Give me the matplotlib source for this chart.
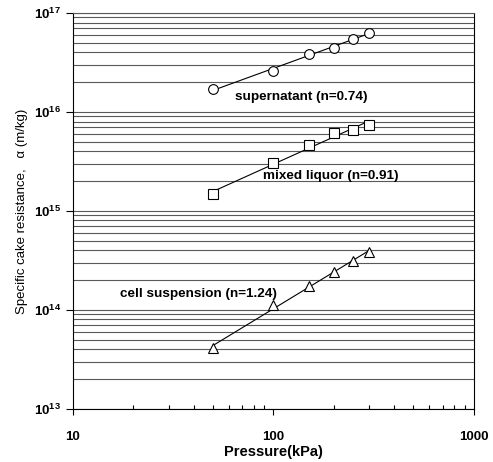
import numpy as np
import matplotlib
matplotlib.use("Agg")
import matplotlib.pyplot as plt
from matplotlib.ticker import LogLocator, FixedLocator, FixedFormatter, NullFormatter

# pressure (kPa) and specific cake resistance (m/kg)
pressure = [50, 100, 150, 200, 250, 300]
supernatant = [1.7e16, 2.6e16, 3.85e16, 4.4e16, 5.5e16, 6.3e16]
mixed_liquor = [1.48e15, 3.05e15, 4.6e15, 6.1e15, 6.6e15, 7.4e15]
cell_suspension = [4.1e13, 1.12e14, 1.75e14, 2.4e14, 3.1e14, 3.85e14]

x_ticks = [10, 100, 1000]
x_ticklabels = ["10", "100", "1000"]

series = [
    ("supernatant (n=0.74)", supernatant, "o", (64, 1.4e16)),
    ("mixed liquor (n=0.91)", mixed_liquor, "s", (89, 2.26e15)),
    ("cell suspension (n=1.24)", cell_suspension, "^", (17.1, 1.45e14)),
]

plt.rcParams["font.family"] = ["Liberation Sans", "DejaVu Sans"]

fig = plt.figure(figsize=(4.93, 4.62), dpi=100)
ax = fig.add_axes([0.148, 0.115, 0.813, 0.857])

x = np.array(pressure, dtype=float)
for label, vals, marker, (tx, ty) in series:
    y = np.array(vals)
    # power-law trend line through the points
    k, b = np.polyfit(np.log10(x), np.log10(y), 1)
    xf = np.array([x.min(), x.max()])
    ax.plot(xf, 10 ** (k * np.log10(xf) + b), color="black", lw=0.8, zorder=3)
    ax.plot(x, y, linestyle="none", marker=marker, ms=7, mfc="white",
            mec="black", mew=0.8, zorder=4)
    ax.text(tx, ty, label, fontsize=9.7, fontweight="bold", va="center",
            ha="left", zorder=5)

ax.set_xscale("log")
ax.set_yscale("log")
ax.set_xlim(10, 1000)
ax.set_ylim(1e13, 1e17)

ax.xaxis.set_major_locator(FixedLocator(x_ticks))
ax.xaxis.set_major_formatter(FixedFormatter(x_ticklabels))
ax.xaxis.set_minor_formatter(NullFormatter())
ax.yaxis.set_major_locator(LogLocator(base=10, numticks=10))
ax.yaxis.set_minor_locator(LogLocator(base=10, subs=np.arange(2, 10), numticks=20))
ax.yaxis.set_minor_formatter(NullFormatter())

ax.grid(True, which="both", axis="y", color="0.35", lw=0.8)
ax.tick_params(axis="y", which="minor", length=0)
ax.tick_params(axis="y", which="major", length=5, width=0.8, labelsize=9.5)
ax.tick_params(axis="x", which="major", length=4, width=0.8, labelsize=9.5, pad=12)
ax.tick_params(axis="x", which="minor", direction="in", length=3, width=0.8)
for lab in ax.get_xticklabels() + ax.get_yticklabels():
    lab.set_fontweight("bold")

for s in ax.spines.values():
    s.set_linewidth(0.8)
ax.spines["top"].set_color("0.35")

ax.set_xlabel("Pressure(kPa)", fontsize=10.5, fontweight="bold", va="center")
ax.xaxis.set_label_coords(0.5, -0.108)
ax.set_ylabel("Specific cake resistance,   α (m/kg)", fontsize=9.5, labelpad=4)

fig.savefig("out.png", dpi=100)
